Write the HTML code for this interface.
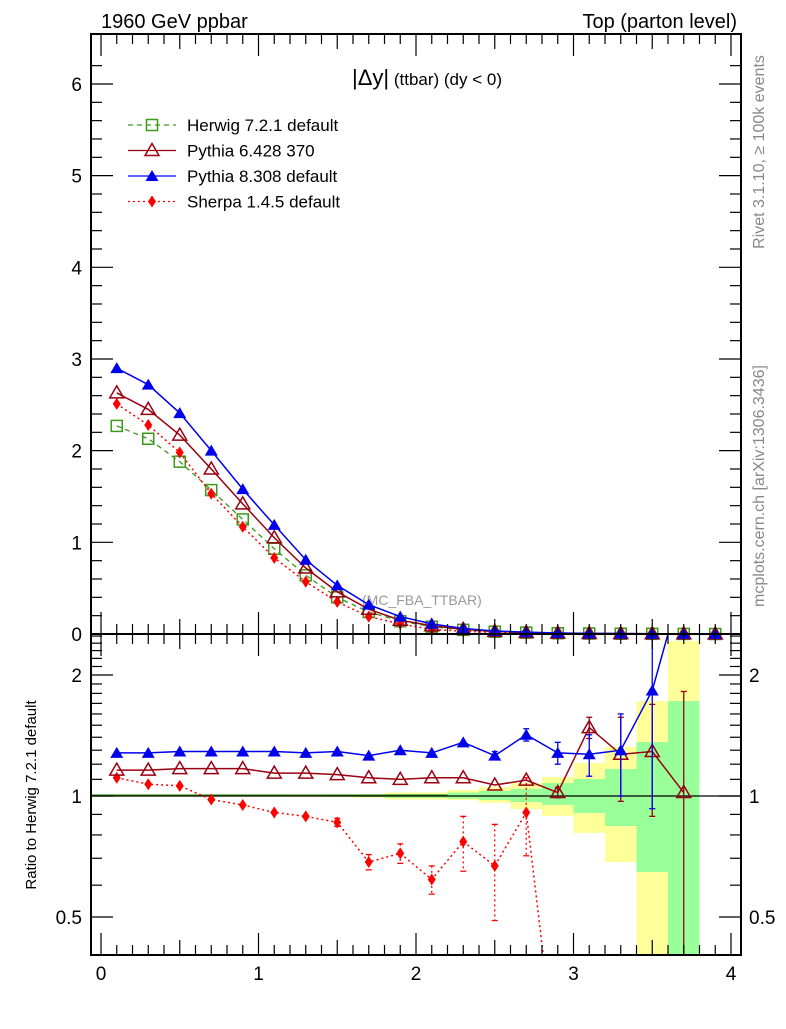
<!DOCTYPE html>
<html><head><meta charset="utf-8"><style>
body{margin:0;background:#fff;width:786px;height:1024px;overflow:hidden}
svg{font-family:"Liberation Sans",sans-serif}
</style></head><body>
<svg id="c" width="786" height="1024" viewBox="0 0 786 1024" xmlns="http://www.w3.org/2000/svg">
<text x="101" y="28" font-size="20">1960 GeV ppbar</text>
<text x="737" y="28" font-size="20" text-anchor="end">Top (parton level)</text>
<text transform="translate(764,152) rotate(-90)" font-size="16" fill="#888" text-anchor="middle">Rivet 3.1.10, ≥ 100k events</text>
<text transform="translate(764,486) rotate(-90)" font-size="16" fill="#888" text-anchor="middle">mcplots.cern.ch [arXiv:1306.3436]</text>
<text x="362" y="605" font-size="14" fill="#999">(MC_FBA_TTBAR)</text>
<text x="502" y="85" font-size="17" text-anchor="end"><tspan font-size="22">|Δy|</tspan> (ttbar) (dy &lt; 0)</text>
<text transform="translate(36,795) rotate(-90)" font-size="15" text-anchor="middle">Ratio to Herwig 7.2.1 default</text>
<g id="bands"></g><g id="marks"></g><g id="axes"></g><g id="legend"></g>
</svg>
<script>
const xs=[0.1,0.3,0.5,0.7,0.9,1.1,1.3,1.5,1.7,1.9,2.1,2.3,2.5,2.7,2.9,3.1,3.3,3.5,3.7,3.9];
const herwig=[2.27,2.13,1.88,1.57,1.25,0.93,0.64,0.40,0.24,0.14,0.08,0.045,0.025,0.015,0.008,0.005,0.003,0.002,0.001,0];
const pythia6=[2.63,2.45,2.17,1.80,1.42,1.05,0.72,0.46,0.27,0.15,0.09,0.05,0.028,0.016,0.009,0.006,0.004,0.003,0.001,0];
const pythia8=[2.90,2.72,2.41,2.00,1.58,1.19,0.81,0.53,0.32,0.19,0.11,0.06,0.033,0.02,0.011,0.007,0.005,0.003,0.002,0];
const sherpa=[2.51,2.28,1.98,1.53,1.17,0.83,0.57,0.35,0.19,0.11,0.05,0.03,0.017,0.01,0.005,0.003,0.001,0,0,0];
const rP8=[1.28,1.28,1.29,1.29,1.29,1.29,1.28,1.29,1.26,1.30,1.28,1.36,1.26,1.42,1.28,1.27,1.30,1.83,3.5];
const eP8=[0,0,0,0,0,0,0,0,0,0,0,0,0.03,0.05,0.08,0.15,0.3,0.9,0];
const rP6=[1.16,1.16,1.17,1.17,1.17,1.14,1.14,1.13,1.11,1.10,1.11,1.11,1.065,1.095,1.02,1.48,1.27,1.29,1.02];
const eP6=[0,0,0,0,0,0,0,0,0,0,0,0,0,0,0.03,0.09,0.3,0.4,0.8];
const rSh=[1.11,1.07,1.06,0.98,0.95,0.91,0.89,0.86,0.685,0.72,0.62,0.77,0.67,0.91,0.2];
const eSh=[0,0,0,0,0,0,0,0.02,0.03,0.04,0.05,0.12,0.18,0.2,0];
const bandEdges=[0,0.2,0.4,0.6,0.8,1.0,1.2,1.4,1.6,1.8,2.0,2.2,2.4,2.6,2.8,3.0,3.2,3.4,3.6,3.8];
const yelHi=[1.004,1.004,1.004,1.004,1.004,1.004,1.005,1.006,1.01,1.02,1.02,1.035,1.053,1.077,1.115,1.208,1.324,1.723,2.43];
const yelLo=[0.996,0.996,0.996,0.996,0.996,0.996,0.995,0.994,0.99,0.98,0.98,0.977,0.961,0.928,0.892,0.809,0.685,0.3,0.3];
const grnHi=[1.002,1.002,1.002,1.002,1.002,1.002,1.003,1.003,1.005,1.01,1.01,1.02,1.029,1.041,1.077,1.102,1.167,1.362,1.723];
const grnLo=[0.998,0.998,0.998,0.998,0.998,0.998,0.997,0.997,0.995,0.99,0.99,0.985,0.977,0.966,0.95,0.907,0.842,0.647,0.3];
const yTicks=[0,1,2,3,4,5,6];
const xTicks=[0,1,2,3,4];
const rTicks=[0.5,1,2];

const NS="http://www.w3.org/2000/svg";
const L=91,R=741,T=34,M=634,B=955;
const X=v=>101+v*157.5;
const Y=v=>634-v*91.67;
const RY=v=>796-Math.log2(v)*121;
const clampR=y=>Math.max(M,Math.min(B,y));
function mk(p,tag,a){const e=document.createElementNS(NS,tag);for(const k in a)e.setAttribute(k,a[k]);document.getElementById(p).appendChild(e);return e;}

for(let i=0;i<yelHi.length;i++){
 const x0=X(bandEdges[i]),x1=X(bandEdges[i]+0.2);
 let e=mk('bands','rect',{x:x0,y:clampR(RY(yelHi[i])),width:x1-x0,height:clampR(RY(yelLo[i]))-clampR(RY(yelHi[i])),fill:'#ffff99'});
 
 
 e=mk('bands','rect',{x:x0,y:clampR(RY(grnHi[i])),width:x1-x0,height:clampR(RY(grnLo[i]))-clampR(RY(grnHi[i])),fill:'#99ff99'});
 
 
}
mk('marks','line',{x1:L,x2:R,y1:796,y2:796,stroke:'#000','stroke-width':1.3});
mk('bands','line',{x1:L,x2:X(2.2),y1:795,y2:795,stroke:'#3a9a1a','stroke-width':1.2});

function marker(g,type,x,y,col){
 let e;
 if(type==='sq') e=mk(g,'rect',{x:x-5.5,y:y-5.5,width:11,height:11,fill:'none',stroke:col,'stroke-width':1.5});
 else if(type==='ot') e=mk(g,'path',{d:`M${x},${y-7}L${x+7},${y+5}L${x-7},${y+5}Z`,fill:'none',stroke:col,'stroke-width':1.5});
 else if(type==='ft') e=mk(g,'path',{d:`M${x},${y-6}L${x+6.5},${y+5}L${x-6.5},${y+5}Z`,fill:col});
 else e=mk(g,'path',{d:`M${x},${y-6}L${x+4},${y}L${x},${y+6}L${x-4},${y}Z`,fill:col});
 return e;
}
const series=[
 {name:'herwig',d:herwig,col:'#3a9a1a',m:'sq',dash:'5,4',w:1.3},
 {name:'sherpa',d:sherpa,col:'#ff0000',m:'fd',dash:'2,3',w:1.5},
 {name:'pythia6',d:pythia6,col:'#990011',m:'ot',dash:'',w:1.5},
 {name:'pythia8',d:pythia8,col:'#0000ee',m:'ft',dash:'',w:1.5}];
for(const s of series){
 const pts=xs.map((x,i)=>X(x)+','+Y(s.d[i])).join(' ');
 let e=mk('marks','polyline',{points:pts,fill:'none',stroke:s.col,'stroke-width':s.w,'stroke-dasharray':s.dash});
 
 
 xs.forEach((x,i)=>{const m=marker('marks',s.m,X(x),Y(s.d[i]),s.col);
  
  });
}
const rs=[
 {name:'sherpa',d:rSh,e:eSh,col:'#ff0000',m:'fd',dash:'2,3'},
 {name:'pythia6',d:rP6,e:eP6,col:'#990011',m:'ot',dash:''},
 {name:'pythia8',d:rP8,e:eP8,col:'#0000ee',m:'ft',dash:''}];
const cp=document.createElementNS(NS,'clipPath');cp.id='rc';
const cr=document.createElementNS(NS,'rect');cr.setAttribute('x',L);cr.setAttribute('y',M);cr.setAttribute('width',R-L);cr.setAttribute('height',B-M);
cp.appendChild(cr);document.getElementById('c').appendChild(cp);
const rg=mk('marks','g',{'clip-path':'url(#rc)',id:'rg'});
for(const s of rs){
 const pts=s.d.map((v,i)=>X(xs[i])+','+RY(v)).join(' ');
 let e=mk('rg','polyline',{points:pts,fill:'none',stroke:s.col,'stroke-width':1.5,'stroke-dasharray':s.dash});
 
 
 s.d.forEach((v,i)=>{
  if(s.e[i]>0){const lo=Math.max(v-s.e[i],0.2);
   e=mk('rg','line',{x1:X(xs[i]),x2:X(xs[i]),y1:RY(v+s.e[i]),y2:RY(lo),stroke:s.col,'stroke-width':1.3,'stroke-dasharray':s.dash});
   
   
   mk('rg','line',{x1:X(xs[i])-3,x2:X(xs[i])+3,y1:RY(v+s.e[i]),y2:RY(v+s.e[i]),stroke:s.col,'stroke-width':1.3});
   mk('rg','line',{x1:X(xs[i])-3,x2:X(xs[i])+3,y1:RY(lo),y2:RY(lo),stroke:s.col,'stroke-width':1.3});}
  if(RY(v)>M&&RY(v)<B){const m=marker('rg',s.m,X(xs[i]),RY(v),s.col);
   
   }
 });
}
mk('axes','rect',{x:L,y:T,width:R-L,height:B-T,fill:'none',stroke:'#000','stroke-width':2});
mk('axes','line',{x1:L,x2:R,y1:M,y2:M,stroke:'#000','stroke-width':2});
for(let v=0;v<=6.4;v+=0.2){const y=Y(v);if(y<T)break;const big=Math.abs(v-Math.round(v))<1e-6;const len=big?22:11;
 mk('axes','line',{x1:L,x2:L+len,y1:y,y2:y,stroke:'#000','stroke-width':1.2});
 mk('axes','line',{x1:R,x2:R-len,y1:y,y2:y,stroke:'#000','stroke-width':1.2});}
yTicks.forEach(v=>{const t=mk('axes','text',{x:82,y:Y(v)+7,'font-size':19,'text-anchor':'end'});t.textContent=v;
 
 });
for(let k=0;k<=40;k++){const v=k/10,x=X(v);if(x>R)break;const len=k%10===0?22:(k%5===0?15:10);
 for(const [y0,d] of [[T,1],[M,-1],[M,1],[B,-1]]) mk('axes','line',{x1:x,x2:x,y1:y0,y2:y0+d*len,stroke:'#000','stroke-width':1.2});}
xTicks.forEach(v=>{const t=mk('axes','text',{x:X(v),y:980,'font-size':19,'text-anchor':'middle'});t.textContent=v;
 
 });
const rmin=[0.4,0.6,0.7,0.8,0.9,1.1,1.2,1.3,1.4,1.5,1.6,1.7,1.8,1.9,2.1,2.2,2.3,2.4,2.5];
rmin.forEach(v=>{const y=RY(v);if(y<M||y>B)return;
 mk('axes','line',{x1:L,x2:L+11,y1:y,y2:y,stroke:'#000','stroke-width':1.2});
 mk('axes','line',{x1:R,x2:R-11,y1:y,y2:y,stroke:'#000','stroke-width':1.2});});
rTicks.forEach(v=>{const y=RY(v);
 mk('axes','line',{x1:L,x2:L+22,y1:y,y2:y,stroke:'#000','stroke-width':1.2});
 mk('axes','line',{x1:R,x2:R-22,y1:y,y2:y,stroke:'#000','stroke-width':1.2});
 let t=mk('axes','text',{x:82,y:y+7,'font-size':19,'text-anchor':'end'});t.textContent=v;
 
 
 t=mk('axes','text',{x:749,y:y+7,'font-size':19});t.textContent=v;
 
 });
const names=['Herwig 7.2.1 default','Pythia 6.428 370','Pythia 8.308 default','Sherpa 1.4.5 default'];
const lser=[series[0],series[2],series[3],series[1]];
lser.forEach((s,i)=>{const y=125+i*25.5;
 mk('legend','line',{x1:128,x2:176,y1:y,y2:y,stroke:s.col,'stroke-width':1.3,'stroke-dasharray':s.dash});
 marker('legend',s.m,152,y,s.col);
 const t=mk('legend','text',{x:187,y:y+6,'font-size':17});t.textContent=names[i];
 
 });
</script>
</body></html>
